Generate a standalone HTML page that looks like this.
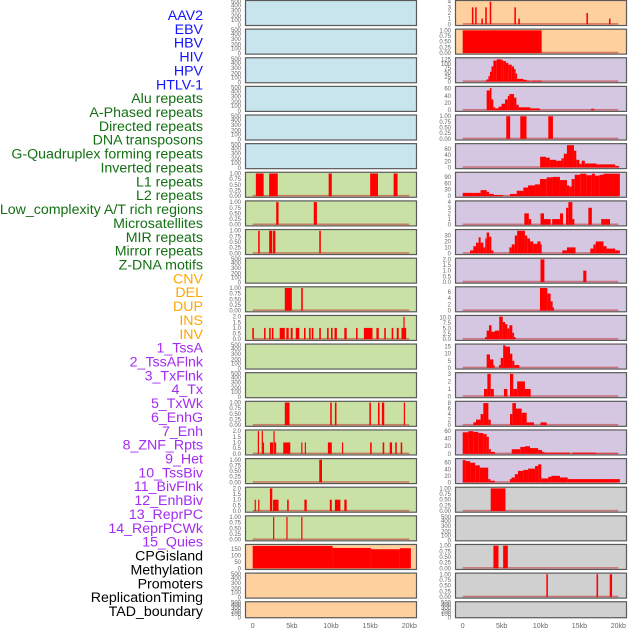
<!DOCTYPE html>
<html><head><meta charset="utf-8"><style>
html,body{margin:0;padding:0;background:#fff;}
svg{display:block;font-family:"Liberation Sans",sans-serif;}
</style></head><body>
<svg id="chart" width="630" height="630" viewBox="0 0 630 630" xmlns="http://www.w3.org/2000/svg">
<g id="labels"></g>
<g id="panels"></g>
</svg>
<script>
const trackLabels = ["AAV2","EBV","HBV","HIV","HPV","HTLV-1","Alu repeats","A-Phased repeats","Directed repeats","DNA transposons","G-Quadruplex forming repeats","Inverted repeats","L1 repeats","L2 repeats","Low_complexity A/T rich regions","Microsatellites","MIR repeats","Mirror repeats","Z-DNA motifs","CNV","DEL","DUP","INS","INV","1_TssA","2_TssAFlnk","3_TxFlnk","4_Tx","5_TxWk","6_EnhG","7_Enh","8_ZNF_Rpts","9_Het","10_TssBiv","11_BivFlnk","12_EnhBiv","13_ReprPC","14_ReprPCWk","15_Quies","CPGisland","Methylation","Promoters","ReplicationTiming","TAD_boundary"];
const labelGroupSizes = [6,13,5,15,5];
const xTickValues = [0,5,10,15,20];
const xTickLabels = ["0","5kb","10kb","15kb","20kb"];

// left column bars [startKb, endKb, value]
const L7 = [[0.4,1.4,1],[2.1,3.2,1],[9.7,10.1,1],[15,16,1],[18,18.5,1]];
const L8 = [[3.0,3.3,1],[7.8,8.2,1]];
const L9 = [[0.7,0.9,1],[2.1,2.5,1],[2.6,2.9,1],[8.5,8.7,1]];
const L11 = [[4.1,5.0,1],[6.2,6.4,1]];
const L12 = [[-0.05,0.15,1],[1.45,1.65,1],[2.1,2.3,1],[2.45,2.65,1],[3.45,4.1,1],[4.3,4.6,1],[4.85,5.1,1],[5.5,5.95,1],[6.55,6.75,1],[7.2,7.4,1],[7.55,7.75,1],[8.5,8.7,1],[9.5,9.7,1],[10.0,10.2,1],[10.45,10.75,1],[11.7,12.0,1],[13.2,13.4,1],[14.2,15.3,1],[15.8,16.1,1],[16.8,17.0,1],[17.75,17.95,1],[18.4,18.65,1],[19.0,19.6,1],[19.25,19.4,2]];
const L15 = [[4.1,4.7,1],[9.9,10.1,1],[10.5,10.7,1],[14.9,15.1,1],[16,16.2,1],[16.5,16.8,1],[19.3,19.45,1]];
const L16 = [[0.65,0.8,2],[1.15,1.3,2],[1.3,1.45,1],[2.2,2.6,1],[2.65,2.8,2],[2.8,3.0,1],[3.9,4.8,1],[6.2,6.35,1],[6.65,6.8,1],[9.6,10.1,1],[11.4,11.55,1],[15.0,15.2,1],[16.6,16.8,1],[17.5,17.8,1],[18.2,18.4,1],[18.9,19.1,1]];
const L17 = [[8.5,8.85,1]];
const L18 = [[0.25,0.4,1],[0.7,0.85,1],[2.2,2.5,2],[2.6,3.3,1],[4.4,4.6,1],[6.6,6.9,1],[9.85,10.1,1],[10.5,11.2,1],[11.7,12.0,1]];
const L19 = [[2.6,2.75,1],[4.3,4.45,1],[6.2,6.35,1]];
const L20 = [[0,10.2,176],[10.2,15.1,160],[15.1,18.8,150],[18.8,20.2,158]];

// right column bars
const R1 = [[1.18,1.38,3],[1.6,1.8,3],[2.4,2.6,1],[2.9,3.1,3],[3.47,3.67,4],[6.64,6.84,3],[7.15,7.35,1],[15.9,16.1,2],[18.8,19.0,1]];
const R2 = [[0,10.15,1]];
const R3 = [[2.87,3.08,5],[3.08,3.3,12],[3.3,3.5,30],[3.5,3.7,55],[3.7,3.94,85],[3.94,4.37,118],[4.37,5.0,125],[5.0,5.2,120],[5.2,5.56,115],[5.56,5.86,105],[5.86,6.3,95],[6.3,6.6,85],[6.6,6.8,70],[6.8,7.0,45],[7.0,7.8,15],[7.8,8.2,10],[8.2,8.7,5],[8.87,10.15,5]];
const R4 = [[3.08,3.5,55],[3.5,3.7,62],[3.7,3.94,30],[3.94,4.2,8],[4.2,4.6,5],[4.6,5.0,10],[5.0,5.44,18],[5.44,5.8,30],[5.8,6.0,40],[6.0,6.6,45],[6.6,6.9,35],[6.9,7.2,15],[7.2,8.7,8],[8.7,9.9,5],[16.5,16.9,4]];
const R5 = [[5.6,6.1,1],[7.4,8.2,1],[11.0,11.6,1]];
const R6 = [[9.95,10.7,35],[10.7,11.2,32],[11.2,12.0,25],[12.0,12.7,22],[12.7,13.0,30],[13.0,13.4,45],[13.4,14.3,73],[14.3,14.6,55],[14.6,15.0,25],[15.0,15.3,12],[15.3,15.7,22],[15.7,17.2,13],[17.2,19.6,10],[19.6,20.1,5]];
const R7 = [[0,1.37,15],[1.37,2.3,15],[2.3,3.08,28],[3.08,3.4,20],[3.4,4.0,10],[4.0,5.2,5],[6.08,6.94,10],[6.94,7.8,25],[7.8,8.4,40],[8.4,9.3,50],[9.3,9.93,55],[9.93,10.8,80],[10.8,11.6,88],[11.6,12.5,90],[12.5,13.4,75],[13.4,13.7,50],[13.7,14.0,45],[14.0,14.4,80],[14.4,15.1,100],[15.1,15.9,105],[15.9,16.6,98],[16.6,17.0,105],[17.0,17.6,96],[17.6,18.1,100],[18.1,20.2,105]];
const R8 = [[7.92,8.5,2],[8.5,8.8,1],[10.0,10.45,2],[10.45,11.3,1],[11.5,12.5,1],[12.5,12.9,2],[13.28,13.58,3],[13.58,14.1,4],[14.1,14.35,1],[16.15,16.6,3],[17.8,18.93,1]];
const R9 = [[0.94,1.37,5],[1.37,1.71,12],[1.71,2.05,18],[2.05,2.3,27],[2.3,2.65,18],[2.65,2.9,10],[2.9,3.08,25],[3.08,3.4,35],[3.4,3.68,28],[3.68,3.94,5],[6.0,6.3,10],[6.3,6.7,15],[6.7,7.0,30],[7.0,8.0,38],[8.0,8.3,30],[8.3,8.65,25],[8.65,9.08,20],[9.08,9.6,16],[9.6,10.0,20],[10.0,10.15,15],[12.8,13.4,5],[13.4,14.5,10],[16.4,16.8,8],[16.8,17.1,15],[17.1,18.1,20],[18.1,18.5,12],[18.5,19.6,8],[19.6,20.2,5]];
const R10 = [[10.0,10.5,2],[15.5,15.9,1]];
const R11 = [[9.93,10.88,7.3],[10.88,11.3,5.5],[11.3,11.56,3],[11.56,11.74,1]];
const R12 = [[2.87,3.08,1],[3.08,3.38,4],[3.38,3.7,6.5],[3.7,4.15,3.5],[4.15,4.7,4],[4.7,5.14,10.5],[5.14,5.44,8],[5.44,5.74,7],[5.74,6.0,5],[6.0,6.38,6.5],[6.38,6.6,3],[6.6,6.8,1]];
const R13 = [[3.08,3.5,9.5],[3.5,3.94,6],[3.94,4.1,2],[4.67,4.88,2],[4.88,5.2,7],[5.2,5.5,16],[5.5,6.08,15],[6.08,6.38,10],[6.38,6.64,5],[6.64,7.28,2]];
const R14 = [[2.74,3.17,1],[3.17,3.6,3],[3.6,4.0,1],[5.3,5.74,1],[6.08,6.5,3],[6.5,7.0,1],[7.0,8.0,2],[8.0,8.74,1]];
const R15 = [[1.37,1.71,1],[1.71,2.3,2],[2.3,2.65,4],[2.65,3.3,8],[3.3,3.6,2],[6.08,6.38,4],[6.38,6.85,8],[6.85,7.58,6],[7.58,8.22,4.5],[8.22,9.16,1],[10.0,10.8,1]];
const R16 = [[0,0.73,57],[0.73,1.37,60],[1.37,2.0,58],[2.0,2.65,55],[2.65,3.08,52],[3.08,3.36,45],[3.36,3.62,12],[3.62,4.13,5],[6.3,7.4,12],[7.4,8.0,18],[8.0,8.65,20],[8.65,9.7,15],[9.7,10.2,10],[10.2,10.5,5],[10.5,13.8,3],[14.1,17.1,3],[17.1,20.0,1]];
const R17 = [[0,0.4,68],[0.4,0.95,65],[0.95,1.6,60],[1.6,2.2,52],[2.2,3.28,45],[3.28,3.58,10],[3.58,4.13,5],[6.06,6.28,10],[6.28,6.7,15],[6.7,7.1,25],[7.1,7.8,35],[7.8,8.4,38],[8.4,9.3,42],[9.3,9.7,50],[9.7,10.1,55],[10.1,11.0,12],[11.0,11.4,17],[11.4,12.5,20],[12.5,13.5,15],[13.5,20.2,10]];
const R18 = [[3.6,5.5,1]];
const R20 = [[3.95,4.6,1],[5.2,5.8,1]];
const R21 = [[10.75,10.95,1],[17.2,17.4,1],[18.9,19.2,1]];

const T01 = ["0.00","0.25","0.50","0.75","1.00"];
const T2 = ["0.0","0.5","1.0","1.5","2.0"];
const TE = ["0","100","200","300","400","500"];

// panel config: [bars, ymax, tickValues, tickLabels]
const leftPanels = [null,null,null,null,null,null,[L7,1,[0,.25,.5,.75,1],T01],[L8,1,[0,.25,.5,.75,1],T01],[L9,1,[0,.25,.5,.75,1],T01],null,[L11,1,[0,.25,.5,.75,1],T01],[L12,2,[0,.5,1,1.5,2],T2],null,null,[L15,1,[0,.25,.5,.75,1],T01],[L16,2,[0,.5,1,1.5,2],T2],[L17,1,[0,.25,.5,.75,1],T01],[L18,2,[0,.5,1,1.5,2],T2],[L19,1,[0,.25,.5,.75,1],T01],[L20,178,[0,50,100,150],["0","50","100","150"]],null,null];
const rightPanels = [[R1,4,[0,1,2,3,4],["0","1","2","3","4"]],[R2,1,[0,.25,.5,.75,1],T01],[R3,127,[0,25,50,75,100,125],["0","25","50","75","100","125"]],[R4,63,[0,20,40,60],["0","20","40","60"]],[R5,1,[0,.25,.5,.75,1],T01],[R6,74,[0,20,40,60],["0","20","40","60"]],[R7,106,[0,30,60,90],["0","30","60","90"]],[R8,4,[0,1,2,3,4],["0","1","2","3","4"]],[R9,38,[0,10,20,30],["0","10","20","30"]],[R10,2,[0,.5,1,1.5,2],T2],[R11,7.3,[0,2,4,6],["0","2","4","6"]],[R12,10.5,[0,2.5,5,7.5,10],["0.0","2.5","5.0","7.5","10.0"]],[R13,16,[0,5,10,15],["0","5","10","15"]],[R14,3,[0,1,2,3],["0","1","2","3"]],[R15,8.2,[0,2,4,6,8],["0","2","4","6","8"]],[R16,60,[0,20,40,60],["0","20","40","60"]],[R17,69,[0,20,40,60],["0","20","40","60"]],[R18,1,[0,.25,.5,.75,1],T01],null,[R20,1,[0,.25,.5,.75,1],T01],[R21,1,[0,.25,.5,.75,1],T01],null];

const leftBg = i => i<6 ? "#c8e4ec" : (i<19 ? "#c9e1a5" : "#fed09e");
const rightBg = i => i<2 ? "#fed09e" : (i<17 ? "#d5c6e1" : "#d0d0d0");
const groupColors = ["#1414ff","#137013","#ffa500","#a32cf0","#000000"];
const NS = "http://www.w3.org/2000/svg";
function mk(tag, attrs, parent){const e=document.createElementNS(NS,tag);for(const k in attrs)e.setAttribute(k,attrs[k]);parent.appendChild(e);return e;}

// labels
const lg = document.getElementById("labels");
let gi = 0, cnt = 0;
trackLabels.forEach((t,i)=>{
  while(cnt>=labelGroupSizes[gi]){gi++;cnt=0;}
  cnt++;
  const e = mk("text",{x:203,y:15+i*13.86+5,"text-anchor":"end","font-size":"14.2",fill:groupColors[gi]},lg);
  
  
  e.textContent = t;
});

const pg = document.getElementById("panels");
const emptyFr = [0.02,0.22,0.38,0.6,0.8,0.96];
function drawPanel(col, i, cfg){
  const x0 = col===0 ? 245.5 : 455.5, w = 171;
  const top = 0.5 + i*28.63, h = i===21 ? 16 : 25;
  const zero = col===0 ? 252.7 : 462.7, kbw = col===0 ? 7.83 : 7.78;
  const xs = kb => zero + kb*kbw;
  const g = mk("g",{},pg);
  
  
  const bg = mk("rect",{x:x0,y:top,width:w,height:h,fill:col===0?leftBg(i):rightBg(i),stroke:"#5a5a5a","stroke-width":1.2},g);
  
  
  const tx = col===0 ? 241 : 451;
  if(!cfg){
    TE.forEach((t,k)=>{
      const ty = top + h - emptyFr[k]*h + 2;
      const e = mk("text",{x:tx,y:ty,"text-anchor":"end","font-size":"6",fill:"#666"},g);
      
      
      e.textContent = t;
    });
    return;
  }
  const [bars,ymax,tv,tl] = cfg;
  const ys = v => top + h - 1.2 - (v/ymax)*(h-2.4);
  tv.forEach((v,k)=>{
    const e = mk("text",{x:tx,y:ys(v)+2,"text-anchor":"end","font-size":"6",fill:"#666"},g);
    
    
    e.textContent = tl[k];
  });
  const base = mk("rect",{x:xs(0),y:ys(0)-1.2,width:xs(20)-xs(0),height:1.6,fill:"#c03030","fill-opacity":0.55},g);
  
  
  bars.forEach(b=>{
    const x1 = xs(b[0]), x2 = xs(b[1]);
    const r = mk("rect",{x:x1,y:ys(b[2]),width:Math.max(x2-x1,1.2),height:ys(0)-ys(b[2]),fill:"#ff0000"},g);
    
    
  });
}
for(let i=0;i<22;i++){drawPanel(0,i,leftPanels[i]);drawPanel(1,i,rightPanels[i]);}

// x ticks
[0,1].forEach(col=>{
  const zero = col===0 ? 252.7 : 462.7, kbw = col===0 ? 7.83 : 7.78;
  xTickValues.forEach((v,k)=>{
    const e = mk("text",{x:zero+v*kbw,y:628,"text-anchor":"middle","font-size":"7",fill:"#666"},pg);
    
    
    e.textContent = xTickLabels[k];
  });
});
</script>
</body></html>
